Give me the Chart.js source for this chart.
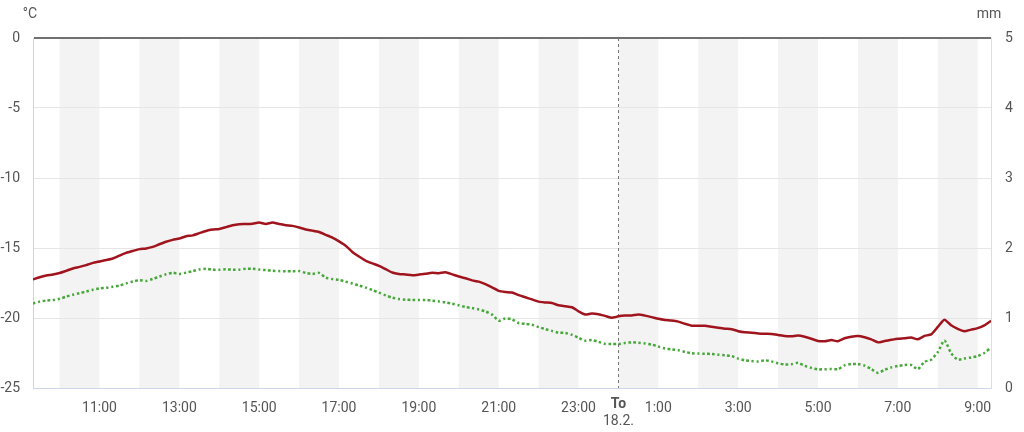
<!DOCTYPE html>
<html>
<head>
<meta charset="utf-8">
<script src="https://cdn.jsdelivr.net/npm/chart.js@4/dist/chart.umd.min.js"></script>
<style>
  body { margin: 0; background: #fff; }
  #wrap { width: 1024px; height: 432px; position: relative; }
</style>
</head>
<body>
<div id="wrap"><canvas id="myChart"></canvas></div>
<script>
'use strict';

// time of the first reading (hours, day 1) and spacing between readings (10 min)
const startHour = 9 + 20 / 60;
const stepHour = 10 / 60;

// temperature, solid dark red line (°C)
const tempValues = [
  -17.25, -17.09, -16.97, -16.90, -16.79, -16.63, -16.46, -16.35, -16.22, -16.06,
  -15.96, -15.86, -15.75, -15.54, -15.35, -15.21, -15.08, -15.03, -14.92, -14.73,
  -14.55, -14.42, -14.32, -14.16, -14.10, -13.94, -13.78, -13.68, -13.64, -13.51,
  -13.37, -13.30, -13.29, -13.26, -13.18, -13.28, -13.18, -13.29, -13.37, -13.42,
  -13.54, -13.68, -13.76, -13.86, -14.06, -14.26, -14.53, -14.84, -15.28, -15.61,
  -15.91, -16.10, -16.27, -16.51, -16.75, -16.85, -16.89, -16.94, -16.90, -16.84,
  -16.77, -16.80, -16.74, -16.88, -17.04, -17.16, -17.31, -17.40, -17.58, -17.81,
  -18.06, -18.14, -18.18, -18.37, -18.52, -18.67, -18.83, -18.89, -18.93, -19.09,
  -19.16, -19.23, -19.52, -19.75, -19.68, -19.73, -19.85, -19.98, -19.88, -19.83,
  -19.82, -19.75, -19.83, -19.94, -20.06, -20.14, -20.18, -20.26, -20.41, -20.55,
  -20.55, -20.56, -20.63, -20.70, -20.76, -20.80, -20.94, -21.02, -21.05, -21.10,
  -21.13, -21.14, -21.21, -21.29, -21.30, -21.25, -21.34, -21.48, -21.64, -21.66,
  -21.58, -21.66, -21.45, -21.34, -21.29, -21.38, -21.53, -21.74, -21.65, -21.56,
  -21.48, -21.45, -21.40, -21.52, -21.28, -21.17, -20.64, -20.12, -20.52, -20.78,
  -20.95, -20.83, -20.72, -20.52, -20.20
];

// dew point, dotted green line (°C)
const dewValues = [
  -18.96, -18.83, -18.75, -18.72, -18.63, -18.47, -18.34, -18.23, -18.11, -17.98,
  -17.88, -17.84, -17.77, -17.68, -17.53, -17.39, -17.30, -17.35, -17.21, -17.04,
  -16.88, -16.77, -16.85, -16.76, -16.65, -16.53, -16.48, -16.56, -16.55, -16.52,
  -16.55, -16.55, -16.48, -16.48, -16.54, -16.58, -16.62, -16.65, -16.66, -16.66,
  -16.65, -16.78, -16.85, -16.78, -17.12, -17.22, -17.28, -17.40, -17.54, -17.68,
  -17.83, -18.00, -18.19, -18.38, -18.55, -18.65, -18.69, -18.71, -18.71, -18.71,
  -18.76, -18.82, -18.88, -18.98, -19.09, -19.21, -19.29, -19.39, -19.53, -19.76,
  -20.20, -20.03, -20.10, -20.36, -20.42, -20.48, -20.65, -20.79, -20.92, -21.05,
  -21.07, -21.20, -21.41, -21.62, -21.58, -21.70, -21.85, -21.86, -21.86, -21.78,
  -21.74, -21.76, -21.82, -21.90, -22.04, -22.18, -22.24, -22.30, -22.42, -22.52,
  -22.54, -22.55, -22.57, -22.62, -22.67, -22.72, -22.90, -23.03, -23.07, -23.11,
  -23.02, -23.10, -23.24, -23.32, -23.30, -23.20, -23.42, -23.57, -23.67, -23.66,
  -23.64, -23.66, -23.38, -23.29, -23.29, -23.40, -23.65, -23.92, -23.70, -23.53,
  -23.43, -23.35, -23.36, -23.66, -23.13, -22.98, -22.44, -21.60, -22.50, -22.98,
  -22.90, -22.82, -22.72, -22.50, -22.10
];

// x axis ticks (hours since midnight of day 1) and their labels
const tickHours = [11, 13, 15, 17, 19, 21, 23, 24, 25, 27, 29, 31, 33];
const tickLabels = ['11:00', '13:00', '15:00', '17:00', '19:00', '21:00', '23:00', '', '1:00', '3:00', '5:00', '7:00', '9:00'];
const dayHour = 24;
const dayLabel = ['To', '18.2.'];

// shaded hour bands start at these hours
const bandHours = [10, 12, 14, 16, 18, 20, 22, 24, 26, 28, 30, 32];

const tempTicks = [0, -5, -10, -15, -20, -25];
const rainTicks = [0, 1, 2, 3, 4, 5];

function toPoints(values) {
    let pts = [];
    for (let i = 0; i < values.length; i++) {
        pts.push({ x: startHour + i * stepHour, y: values[i] });
    }
    return pts;
}

const labelFont = { family: 'Roboto', size: 14 };
const labelColor = '#555';

let extras = {
    id: 'extras',
    beforeDraw(chart) {
        let ctx = chart.ctx;
        let area = chart.chartArea;
        let xs = chart.scales.x;
        ctx.save();
        ctx.fillStyle = '#f3f3f3';
        for (let h of bandHours) {
            let x1 = xs.getPixelForValue(h);
            let x2 = xs.getPixelForValue(h + 1);
            x2 = Math.min(x2, area.right);
            ctx.fillRect(x1, area.top, x2 - x1, area.bottom - area.top);
        }
        ctx.restore();
    },
    beforeDatasetsDraw(chart) {
        let ctx = chart.ctx;
        let area = chart.chartArea;
        let x = Math.round(chart.scales.x.getPixelForValue(dayHour)) + 0.5;
        ctx.save();
        ctx.strokeStyle = '#777';
        ctx.lineWidth = 1;
        ctx.setLineDash([3, 3]);
        ctx.beginPath();
        ctx.moveTo(x, area.top);
        ctx.lineTo(x, area.bottom);
        ctx.stroke();
        ctx.restore();
    },
    afterDraw(chart) {
        let ctx = chart.ctx;
        let x = chart.scales.x.getPixelForValue(dayHour);
        ctx.save();
        ctx.fillStyle = labelColor;
        ctx.textAlign = 'center';
        ctx.textBaseline = 'middle';
        ctx.font = 'bold 14px Roboto';
        ctx.fillText(dayLabel[0], x, 404);
        ctx.font = '14px Roboto';
        ctx.fillText(dayLabel[1], x, 421);
        ctx.fillText('°C', 30, 14);
        ctx.fillText('mm', 989, 14);
        ctx.restore();
    }
};

var ctx = document.getElementById('myChart').getContext('2d');
var myChart = new Chart(ctx, {
    type: 'line',
    data: {
        datasets: [{
            label: 'Teplota',
            data: toPoints(tempValues),
            borderColor: '#a0141e',
            borderWidth: 2.5,
            pointRadius: 0,
            tension: 0.2,
            yAxisID: 'y'
        }, {
            label: 'Rosný bod',
            data: toPoints(dewValues),
            borderColor: '#47a83a',
            borderWidth: 2.5,
            borderDash: [2.5, 2.5],
            pointRadius: 0,
            tension: 0.2,
            yAxisID: 'y'
        }]
    },
    options: {
        responsive: true,
        maintainAspectRatio: false,
        animation: false,
        events: [],
        layout: { padding: { top: 38, left: 0, right: 0, bottom: 0 } },
        plugins: {
            legend: { display: false },
            tooltip: { enabled: false }
        },
        scales: {
            x: {
                type: 'linear',
                min: startHour,
                max: startHour + 24,
                afterFit(scale) { scale.height = 44; },
                afterBuildTicks(scale) {
                    scale.ticks = tickHours.map(h => ({ value: h }));
                },
                ticks: {
                    autoSkip: false,
                    maxRotation: 0,
                    padding: 4,
                    color: labelColor,
                    font: labelFont,
                    callback: function (value) {
                        let i = tickHours.indexOf(value);
                        return i >= 0 ? tickLabels[i] : '';
                    }
                },
                grid: { display: false },
                border: { color: '#ccd6eb', width: 1 }
            },
            y: {
                position: 'left',
                min: -25,
                max: 0,
                afterFit(scale) { scale.width = 33; },
                afterBuildTicks(scale) {
                    scale.ticks = tempTicks.map(v => ({ value: v }));
                },
                ticks: {
                    padding: 13,
                    color: labelColor,
                    font: labelFont
                },
                grid: {
                    drawTicks: false,
                    color: c => c.tick.value === 0 ? '#707070' : (c.tick.value === -25 ? '#ccd6eb' : '#e6e6e6'),
                    lineWidth: c => c.tick.value === 0 ? 2 : 1
                },
                border: { color: '#ccd6eb', width: 1 }
            },
            y1: {
                position: 'right',
                min: 0,
                max: 5,
                afterFit(scale) { scale.width = 33; },
                afterBuildTicks(scale) {
                    scale.ticks = rainTicks.map(v => ({ value: v }));
                },
                ticks: {
                    padding: 14,
                    color: labelColor,
                    font: labelFont
                },
                grid: { display: false, drawTicks: false },
                border: { color: '#dddddd', width: 1 }
            }
        }
    },
    plugins: [extras]
});
</script>
</body>
</html>
